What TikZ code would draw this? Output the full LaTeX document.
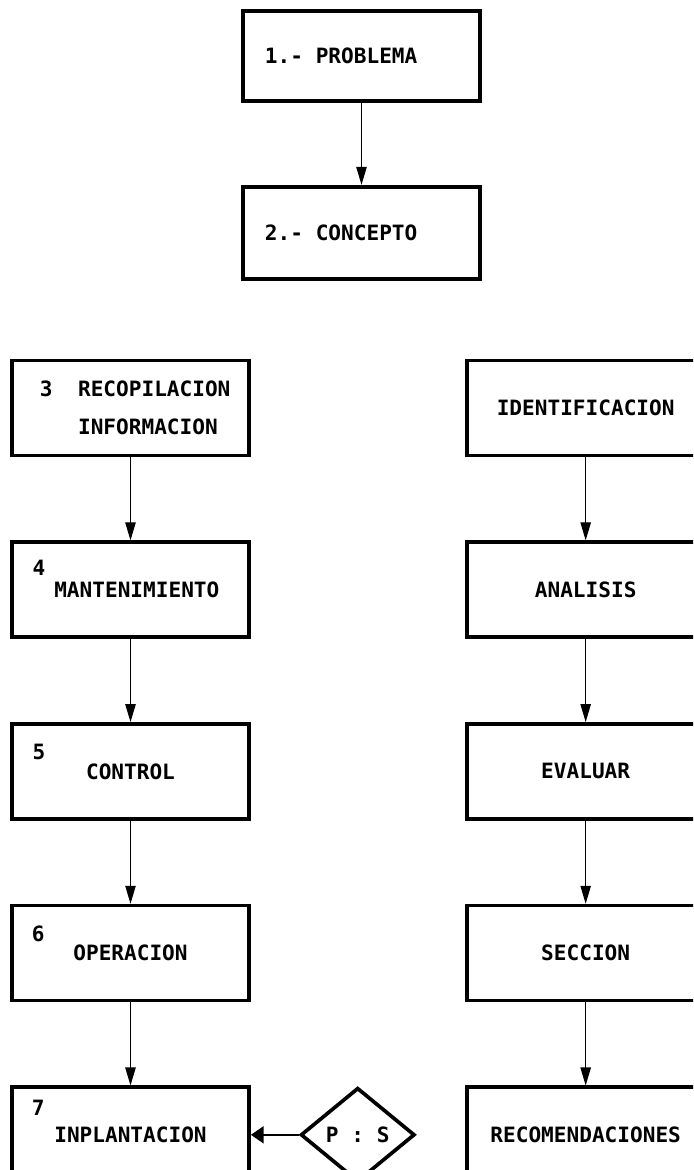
\documentclass[tikz,border=0pt]{standalone}
\usepackage{fontspec}
\setmonofont{DejaVu Sans Mono}
\usepackage{tikz}
\usetikzlibrary{arrows.meta, positioning, shapes.geometric}
\newcommand{\tsp}{\hspace*{0.602em}}

\begin{document}
\begin{tikzpicture}[
    x=0.025cm, y=-0.025cm,
    font=\ttfamily\bfseries\fontsize{15}{18}\selectfont,
    node distance=2.075cm,
    box/.style={rectangle, draw, line width=2.6pt, minimum width=5.925cm, minimum height=2.375cm, align=center},
    num/.style={inner sep=0pt},
    cond/.style={diamond, draw, line width=2.6pt, minimum width=2.85cm, minimum height=2.35cm, inner sep=0pt},
    arr/.style={-{Triangle[length=4.5mm, width=2.6mm]}, line width=0.8pt},
    arrthick/.style={-{Triangle[length=3.2mm, width=4.2mm]}, line width=1.8pt}
]
    \clip (0,0) rectangle (693,1170);

    \node[box, align=left, text width=4.825cm, minimum height=2.25cm] (prob) at (361.5,56) {1.-\tsp PROBLEMA};
    \node[box, align=left, text width=4.825cm, minimum height=2.3cm, below=2.05cm of prob] (conc) {2.-\tsp CONCEPTO};

    % left column
    \node[box, align=left, text width=4.525cm] (recop) at (130.5,408) {3\tsp\tsp RECOPILACION\\[9pt]\tsp\tsp\tsp INFORMACION};
    \node[box, below=of recop] (mant) {\hspace*{0.6em}MANTENIMIENTO};
    \node[box, below=of mant] (ctrl) {CONTROL};
    \node[box, below=of ctrl] (oper) {OPERACION};
    \node[box, below=of oper] (impl) {INPLANTACION};

    \node[num] (n4) at ([shift={(0.72cm,-0.68cm)}]mant.north west) {4};
    \node[num] (n5) at ([shift={(0.72cm,-0.75cm)}]ctrl.north west) {5};
    \node[num] (n6) at ([shift={(0.7cm,-0.75cm)}]oper.north west) {6};
    \node[num] (n7) at ([shift={(0.7cm,-0.55cm)}]impl.north west) {7};

    % right column
    \node[box, right=5.36cm of recop] (ident) {IDENTIFICACION};
    \node[box, below=of ident] (anal) {ANALISIS};
    \node[box, below=of anal] (eval) {EVALUAR};
    \node[box, below=of eval] (secc) {SECCION};
    \node[box, below=of secc] (recom) {RECOMENDACIONES};

    \node[cond, right=1.2cm of impl] (ps) {P\tsp:\tsp S};

    \draw[arr] (prob) -- (conc);
    \draw[arr] (recop) -- (mant);
    \draw[arr] (mant) -- (ctrl);
    \draw[arr] (ctrl) -- (oper);
    \draw[arr] (oper) -- (impl);
    \draw[arr] (ident) -- (anal);
    \draw[arr] (anal) -- (eval);
    \draw[arr] (eval) -- (secc);
    \draw[arr] (secc) -- (recom);
    \draw[arrthick] (ps) -- (impl);
\end{tikzpicture}
\end{document}
